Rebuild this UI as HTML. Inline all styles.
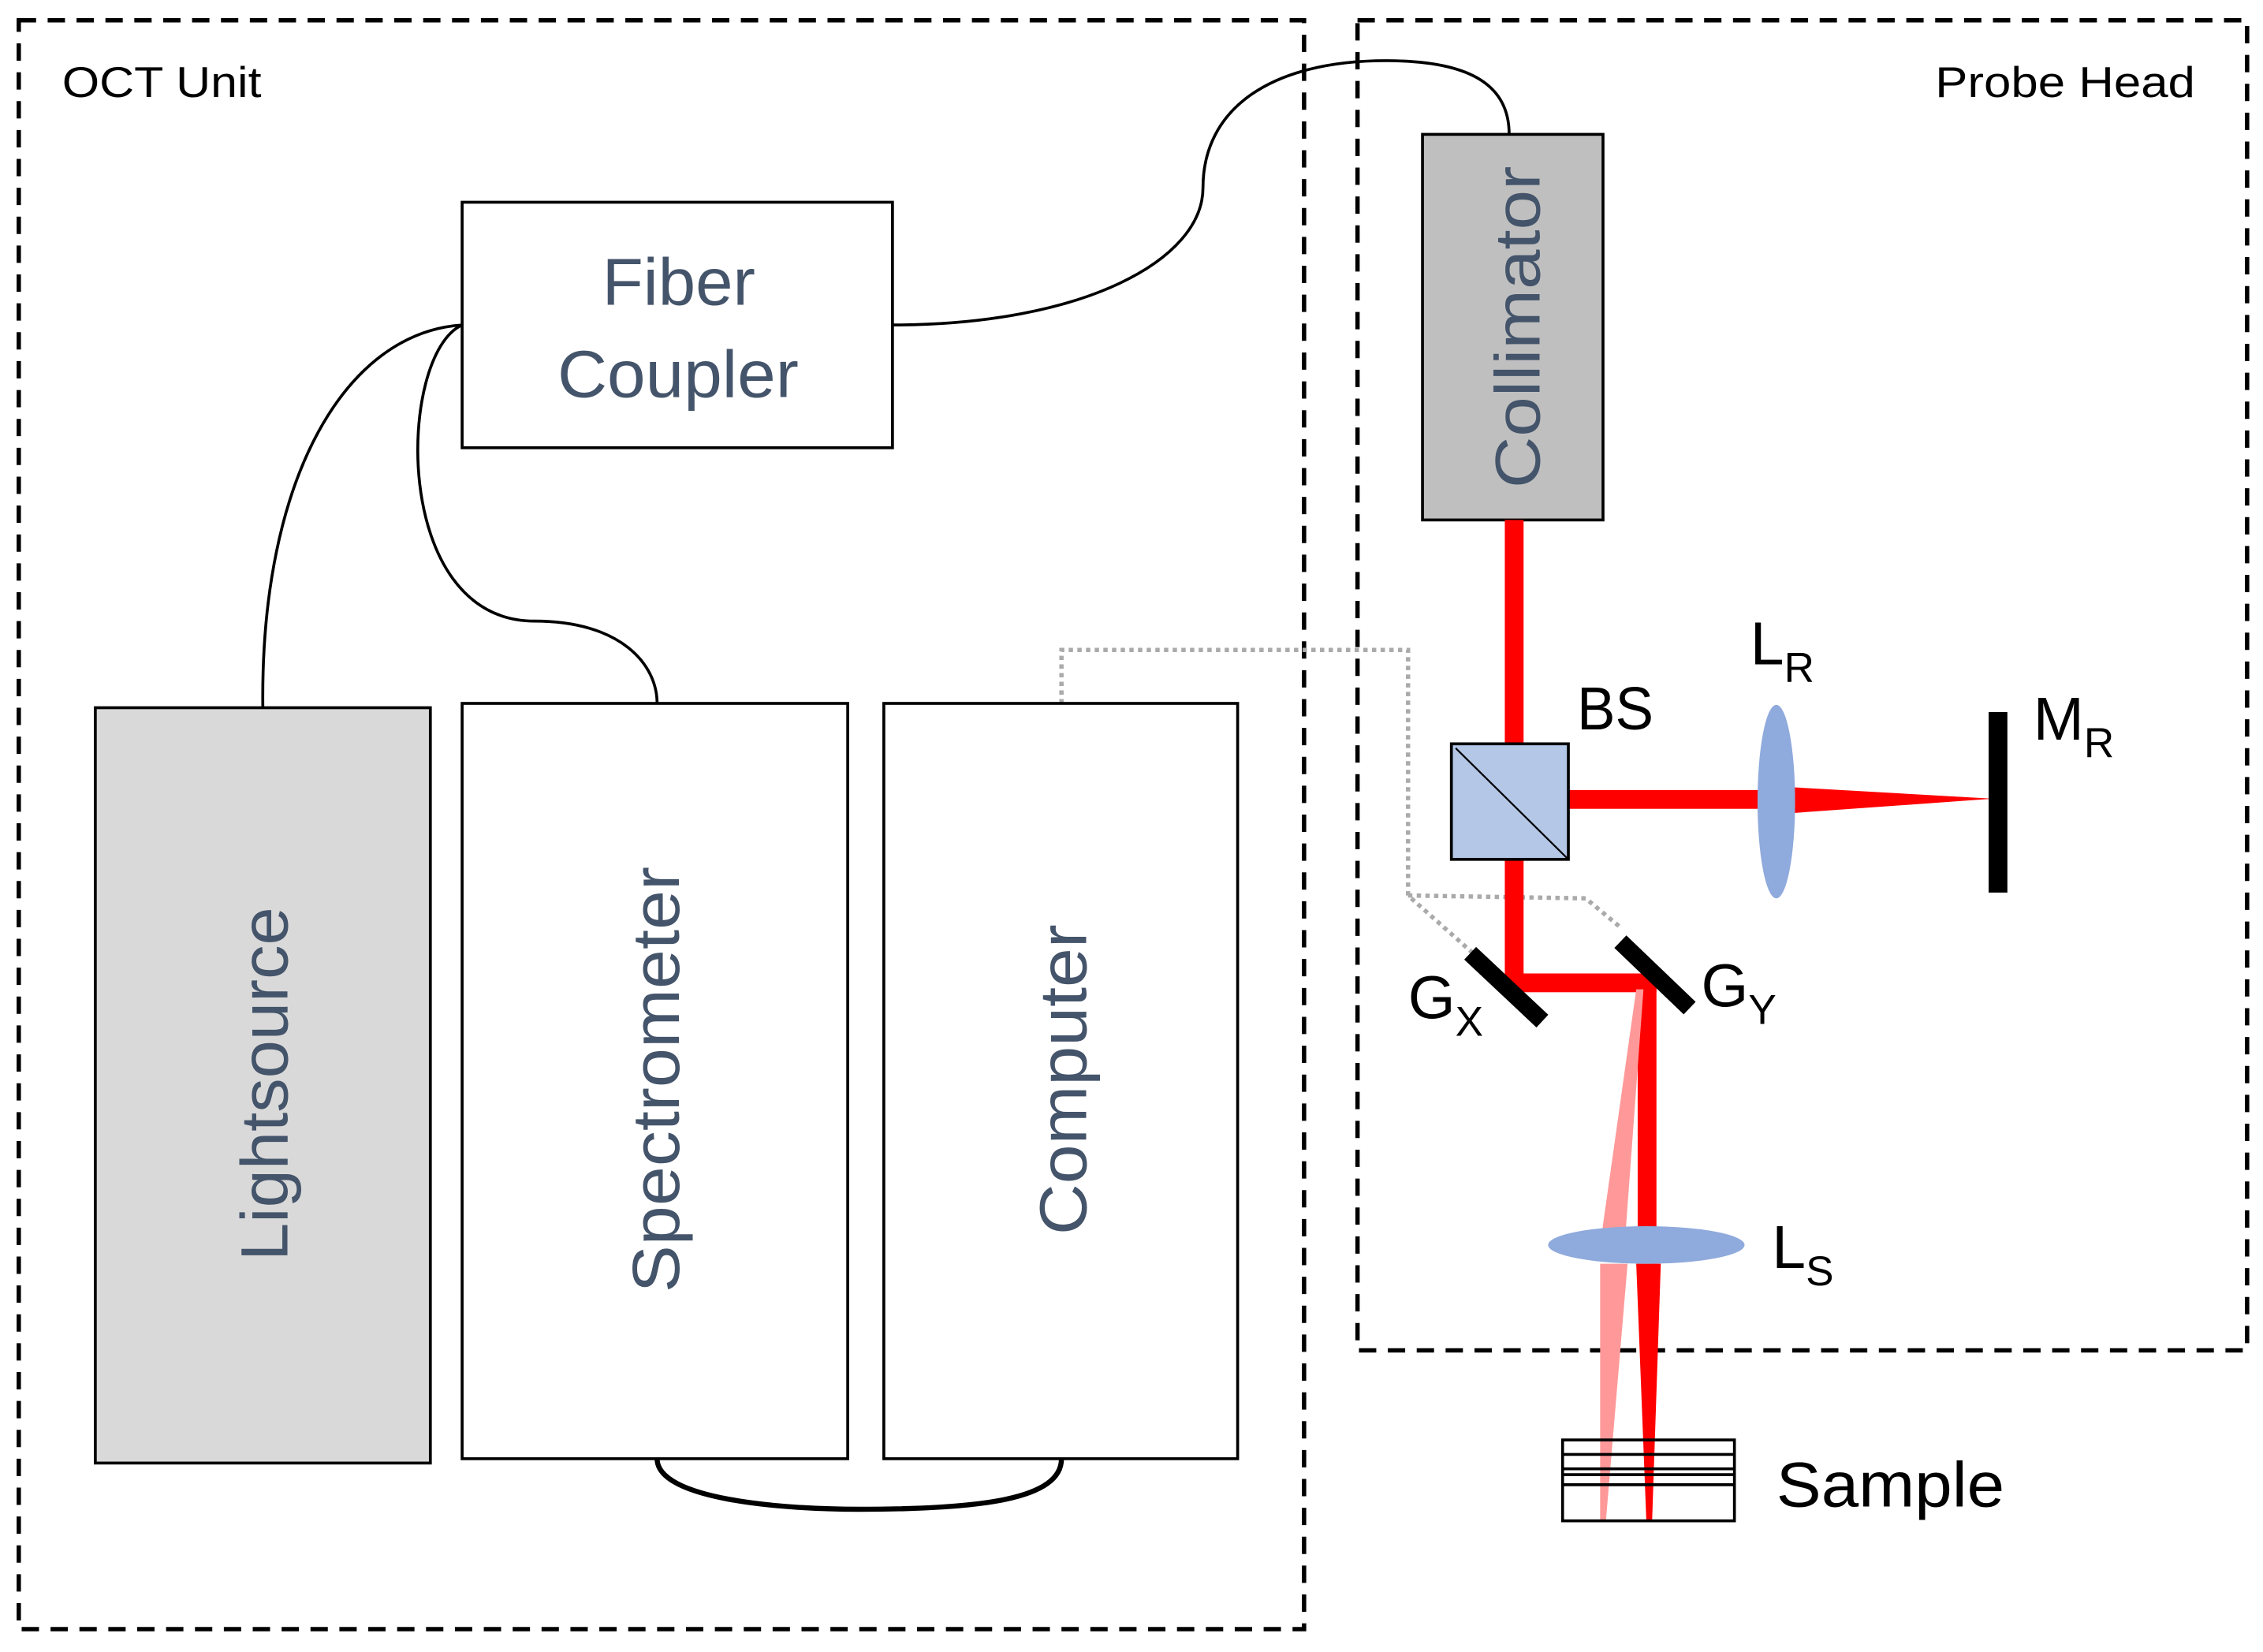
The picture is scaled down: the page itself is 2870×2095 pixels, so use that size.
<!DOCTYPE html>
<html><head><style>html,body{margin:0;padding:0;background:#fff}svg{display:block}</style></head><body>
<svg width="2870" height="2095" viewBox="0 0 1567 1143.8" xmlns="http://www.w3.org/2000/svg" font-family="Liberation Sans, DejaVu Sans, sans-serif">
<rect width="1567" height="1144" fill="#fff"/>
<g fill="none" stroke="#000" stroke-width="3" stroke-dasharray="12,8">
<rect x="13" y="14" width="890" height="1114"/>
<rect x="940" y="14" width="616" height="921"/>
</g>
<text x="43" y="67" font-size="30" fill="#000" textLength="138" lengthAdjust="spacingAndGlyphs">OCT Unit</text>
<text x="1340" y="67" font-size="30" fill="#000" textLength="180" lengthAdjust="spacingAndGlyphs">Probe Head</text>
<!-- cables -->
<g fill="none" stroke="#000" stroke-width="2">
<path d="M320,225 C240,230 180,330 182,490"/>
<path d="M320,225 C275,245 270,430 370,430 C430,430 455,460 455,487"/>
<path d="M618,225 C750,225 833,180 833,130 C833,75 880,42 960,42 C1020,42 1045,60 1045,93"/>
<path d="M455,1010 C455,1038 540,1045 595,1045 C680,1045 735,1038 735,1010" stroke-width="3.5"/>
</g>
<path d="M735,487 L735,450 L975,450 L975,620 L1020,660 M975,620 L1098,622 L1122,642" fill="none" stroke="#aaa" stroke-width="3" stroke-dasharray="3,3"/>
<!-- boxes -->
<g stroke="#000" stroke-width="2">
<rect x="320" y="140" width="298" height="170" fill="#fff"/>
<rect x="985" y="93" width="125" height="267" fill="#bfbfbf"/>
<rect x="66" y="490" width="232" height="523" fill="#d9d9d9"/>
<rect x="320" y="487" width="267" height="523" fill="#fff"/>
<rect x="612" y="487" width="245" height="523" fill="#fff"/>
</g>
<g fill="#44546a" font-size="46" lengthAdjust="spacingAndGlyphs">
<text x="417" y="211" textLength="106" lengthAdjust="spacingAndGlyphs">Fiber</text>
<text x="386" y="275" textLength="167" lengthAdjust="spacingAndGlyphs">Coupler</text>
<text transform="translate(1066,338) rotate(-90)" font-size="44" textLength="223" lengthAdjust="spacingAndGlyphs">Collimator</text>
<text transform="translate(199,873) rotate(-90)" textLength="245" lengthAdjust="spacingAndGlyphs">Lightsource</text>
<text transform="translate(470,895) rotate(-90)" textLength="295" lengthAdjust="spacingAndGlyphs">Spectrometer</text>
<text transform="translate(752,855) rotate(-90)" textLength="215" lengthAdjust="spacingAndGlyphs">Computer</text>
</g>
<!-- beams -->
<g fill="#ff0000">
<rect x="1042" y="360" width="13" height="155"/>
<rect x="1086" y="547" width="140" height="13"/>
<polygon points="1240,545 1380,553 1240,563"/>
<rect x="1042" y="595" width="13" height="92"/>
<rect x="1042" y="674" width="105" height="13"/>
<rect x="1134" y="674" width="13" height="190"/>
<polygon points="1133,875 1150,875 1144,1053 1140,1053"/>
</g>
<g fill="#ff9999">
<polygon points="1133,685 1138,685 1125,862 1108,862"/>
<polygon points="1108,875 1127,875 1112,1053 1108,1053"/>
</g>
<rect x="1005" y="515" width="81" height="80" fill="#b4c7e7" stroke="#000" stroke-width="2"/>
<line x1="1008" y1="518" x2="1086" y2="595" stroke="#000" stroke-width="1.2"/>
<ellipse cx="1230" cy="555" rx="13" ry="67" fill="#8faadc"/>
<ellipse cx="1140" cy="862" rx="68" ry="13" fill="#8faadc"/>
<rect x="1377" y="493" width="13" height="125" fill="#000"/>
<line x1="1018" y1="660" x2="1068" y2="707" stroke="#000" stroke-width="12"/>
<line x1="1122" y1="652" x2="1170" y2="698" stroke="#000" stroke-width="12"/>
<g fill="none" stroke="#000" stroke-width="2">
<rect x="1082" y="997" width="119" height="56"/>
<path d="M1082,1007H1201M1082,1017H1201M1082,1021H1201M1082,1028H1201"/>
</g>
<g fill="#000" font-size="42">
<text x="1092" y="505" textLength="53" lengthAdjust="spacingAndGlyphs">BS</text>
<text x="1212" y="460">L<tspan font-size="29" dy="12">R</tspan></text>
<text x="1408" y="512">M<tspan font-size="29" dy="12">R</tspan></text>
<text x="975" y="705">G<tspan font-size="29" dy="12">X</tspan></text>
<text x="1178" y="697">G<tspan font-size="29" dy="12">Y</tspan></text>
<text x="1227" y="878">L<tspan font-size="29" dy="12">S</tspan></text>
<text x="1230" y="1043" font-size="44" textLength="158" lengthAdjust="spacingAndGlyphs">Sample</text>
</g>
</svg>
</body></html>
